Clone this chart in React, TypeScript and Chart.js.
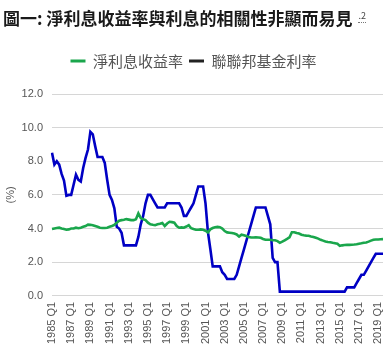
import React, { useEffect, useRef } from "react";
import { Chart, registerables } from "chart.js";

Chart.register(...registerables);

const quarters: string[] = [
  "1985 Q1", "1985 Q2", "1985 Q3", "1985 Q4",
  "1986 Q1", "1986 Q2", "1986 Q3", "1986 Q4",
  "1987 Q1", "1987 Q2", "1987 Q3", "1987 Q4",
  "1988 Q1", "1988 Q2", "1988 Q3", "1988 Q4",
  "1989 Q1", "1989 Q2", "1989 Q3", "1989 Q4",
  "1990 Q1", "1990 Q2", "1990 Q3", "1990 Q4",
  "1991 Q1", "1991 Q2", "1991 Q3", "1991 Q4",
  "1992 Q1", "1992 Q2", "1992 Q3", "1992 Q4",
  "1993 Q1", "1993 Q2", "1993 Q3", "1993 Q4",
  "1994 Q1", "1994 Q2", "1994 Q3", "1994 Q4",
  "1995 Q1", "1995 Q2", "1995 Q3", "1995 Q4",
  "1996 Q1", "1996 Q2", "1996 Q3", "1996 Q4",
  "1997 Q1", "1997 Q2", "1997 Q3", "1997 Q4",
  "1998 Q1", "1998 Q2", "1998 Q3", "1998 Q4",
  "1999 Q1", "1999 Q2", "1999 Q3", "1999 Q4",
  "2000 Q1", "2000 Q2", "2000 Q3", "2000 Q4",
  "2001 Q1", "2001 Q2", "2001 Q3", "2001 Q4",
  "2002 Q1", "2002 Q2", "2002 Q3", "2002 Q4",
  "2003 Q1", "2003 Q2", "2003 Q3", "2003 Q4",
  "2004 Q1", "2004 Q2", "2004 Q3", "2004 Q4",
  "2005 Q1", "2005 Q2", "2005 Q3", "2005 Q4",
  "2006 Q1", "2006 Q2", "2006 Q3", "2006 Q4",
  "2007 Q1", "2007 Q2", "2007 Q3", "2007 Q4",
  "2008 Q1", "2008 Q2", "2008 Q3", "2008 Q4",
  "2009 Q1", "2009 Q2", "2009 Q3", "2009 Q4",
  "2010 Q1", "2010 Q2", "2010 Q3", "2010 Q4",
  "2011 Q1", "2011 Q2", "2011 Q3", "2011 Q4",
  "2012 Q1", "2012 Q2", "2012 Q3", "2012 Q4",
  "2013 Q1", "2013 Q2", "2013 Q3", "2013 Q4",
  "2014 Q1", "2014 Q2", "2014 Q3", "2014 Q4",
  "2015 Q1", "2015 Q2", "2015 Q3", "2015 Q4",
  "2016 Q1", "2016 Q2", "2016 Q3", "2016 Q4",
  "2017 Q1", "2017 Q2", "2017 Q3", "2017 Q4",
  "2018 Q1", "2018 Q2", "2018 Q3", "2018 Q4",
  "2019 Q1", "2019 Q2", "2019 Q3",
];

// 淨利息收益率 (%)
const netInterestMargin: number[] = [
  3.97, 4.0, 4.03, 4.05,
  4.0, 3.97, 3.93, 3.95,
  4.0, 4.0, 4.05, 4.02,
  4.05, 4.1, 4.15, 4.23,
  4.22, 4.2, 4.15, 4.1,
  4.05, 4.03, 4.03, 4.05,
  4.1, 4.15, 4.22, 4.35,
  4.46, 4.5, 4.52, 4.56,
  4.53, 4.5, 4.5, 4.55,
  4.9, 4.62, 4.55, 4.5,
  4.35, 4.25, 4.22, 4.2,
  4.25, 4.28, 4.33, 4.15,
  4.3, 4.4, 4.38, 4.35,
  4.15, 4.05, 4.07, 4.05,
  4.12, 4.2, 4.02, 3.97,
  3.93, 3.93, 3.95, 3.93,
  3.87, 3.77, 3.95, 4.03,
  4.08, 4.1, 4.08, 4.0,
  3.85, 3.77, 3.75, 3.73,
  3.7, 3.65, 3.52, 3.63,
  3.6, 3.55, 3.5, 3.47,
  3.47, 3.48, 3.47, 3.45,
  3.38, 3.33, 3.33, 3.33,
  3.3, 3.3, 3.25, 3.15,
  3.22, 3.3, 3.38, 3.47,
  3.78, 3.78, 3.73, 3.7,
  3.63, 3.6, 3.58, 3.57,
  3.53, 3.5, 3.45, 3.4,
  3.33, 3.28, 3.23, 3.2,
  3.18, 3.15, 3.13, 3.1,
  2.97, 3.0, 3.02, 3.03,
  3.03, 3.04, 3.05, 3.07,
  3.1, 3.12, 3.15, 3.17,
  3.22, 3.28, 3.33, 3.35,
  3.35, 3.36, 3.37,
];

// 聯邦基金利率 (%)
const fedFundsRate: number[] = [
  8.5, 7.8, 8.0, 7.8,
  7.25, 6.85, 5.95, 6.0,
  6.0, 6.6, 7.2, 6.9,
  6.8, 7.6, 8.2, 8.7,
  9.75, 9.6, 8.9, 8.25,
  8.25, 8.25, 7.9, 6.9,
  6.0, 5.7, 5.2, 4.1,
  4.0, 3.75, 3.0, 3.0,
  3.0, 3.0, 3.0, 3.0,
  3.5, 4.25, 4.75, 5.5,
  6.0, 6.0, 5.75, 5.5,
  5.25, 5.25, 5.25, 5.25,
  5.5, 5.5, 5.5, 5.5,
  5.5, 5.5, 5.25, 4.75,
  4.75, 5.0, 5.25, 5.5,
  6.0, 6.5, 6.5, 6.5,
  5.5, 3.8, 2.8, 1.75,
  1.75, 1.75, 1.75, 1.4,
  1.25, 1.0, 1.0, 1.0,
  1.0, 1.25, 1.75, 2.25,
  2.75, 3.25, 3.75, 4.25,
  4.75, 5.25, 5.25, 5.25,
  5.25, 5.25, 4.75, 4.25,
  2.25, 2.0, 2.0, 0.25,
  0.25, 0.25, 0.25, 0.25,
  0.25, 0.25, 0.25, 0.25,
  0.25, 0.25, 0.25, 0.25,
  0.25, 0.25, 0.25, 0.25,
  0.25, 0.25, 0.25, 0.25,
  0.25, 0.25, 0.25, 0.25,
  0.25, 0.25, 0.25, 0.5,
  0.5, 0.5, 0.5, 0.75,
  1.0, 1.25, 1.25, 1.5,
  1.75, 2.0, 2.25, 2.5,
  2.5, 2.5, 2.5,
];

const seriesNames: string[] = ["淨利息收益率", "聯聯邦基金利率"];
const yTicks: number[] = [0, 2, 4, 6, 8, 10, 12];

const LATIN = "'Liberation Sans', Arial, 'Noto Sans CJK TC', sans-serif";
const CJK = "'Noto Sans CJK TC', 'Liberation Sans', sans-serif";

export default function App() {
  const ref = useRef<HTMLCanvasElement | null>(null);

  useEffect(() => {
    document.body.style.margin = "0";
    const canvas = ref.current;
    if (!canvas) return;

    const legendSpacer = {
      id: "legendSpacer",
      beforeInit(chart: any) {
        const legend = chart.legend;
        if (!legend) return;
        const origFit = legend.fit;
        legend.fit = function () {
          origFit.call(this);
          this.height += 15.5;
        };
      },
    };

    const chart = new Chart(canvas, {
      type: "line",
      data: {
        labels: quarters,
        datasets: [
          {
            label: seriesNames[0],
            data: netInterestMargin,
            borderColor: "#1aa64c",
            backgroundColor: "#1aa64c",
            borderWidth: 2.6,
            pointRadius: 0,
            tension: 0,
          },
          {
            label: seriesNames[1],
            data: fedFundsRate,
            borderColor: "#0000c4",
            backgroundColor: "#0000c4",
            borderWidth: 2.6,
            pointRadius: 0,
            tension: 0,
          },
        ],
      },
      options: {
        animation: false,
        responsive: false,
        maintainAspectRatio: false,
        layout: { padding: { top: 47.5, left: 4, right: 9, bottom: 3 } },
        plugins: {
          title: { display: false },
          tooltip: { enabled: false },
          legend: {
            position: "top",
            align: "center",
            labels: {
              usePointStyle: true,
              pointStyle: "line",
              pointStyleWidth: 15,
              padding: 6,
              color: "#555",
              font: { size: 15, family: CJK },
              generateLabels: (c: any) => {
                const items = (Chart.defaults.plugins.legend.labels as any).generateLabels(c);
                if (items[1]) {
                  items[1].strokeStyle = "#222";
                  items[1].fillStyle = "#222";
                }
                items.forEach((it: any) => (it.lineWidth = 3));
                return items;
              },
            },
          },
        },
        scales: {
          x: {
            grid: { display: false, drawTicks: false },
            border: { display: false },
            afterFit: (scale: any) => {
              scale.paddingLeft = 0;
              scale.paddingRight = 0;
            },
            ticks: {
              autoSkip: false,
              maxRotation: 90,
              minRotation: 90,
              padding: 6,
              color: "#555",
              font: { size: 11, family: LATIN },
              callback: (_v: any, i: number) => (i % 8 === 0 ? quarters[i] : ""),
            },
          },
          y: {
            min: yTicks[0],
            max: yTicks[yTicks.length - 1],
            afterBuildTicks: (scale: any) => {
              scale.ticks = yTicks.map((v) => ({ value: v }));
            },
            afterFit: (scale: any) => {
              scale.width = 48;
            },
            grid: { color: "#d6d6d6", drawTicks: false, lineWidth: 1 },
            border: { display: false },
            ticks: {
              padding: 9,
              color: "#555",
              font: { size: 11, family: LATIN },
              callback: (v: any) => Number(v).toFixed(1),
            },
            title: {
              display: true,
              text: "(%)",
              color: "#555",
              font: { size: 11, family: LATIN },
              padding: { top: 0, bottom: 4 },
            },
          },
        },
      },
      plugins: [legendSpacer],
    } as any);

    return () => chart.destroy();
  }, []);

  return (
    <div style={{ position: "relative", width: 392, height: 353 }}>
      <canvas ref={ref} width={392} height={353} style={{ display: "block", width: 392, height: 353 }} />
      <div
        style={{
          position: "absolute",
          left: 3,
          top: 7,
          fontFamily: CJK,
          fontWeight: 700,
          fontSize: 17,
          lineHeight: "21px",
          color: "#1a1a1a",
          whiteSpace: "nowrap",
        }}
      >
        圖一: 淨利息收益率與利息的相關性非顯而易見
        <span
          style={{
            fontSize: 9,
            fontWeight: 400,
            color: "#444",
            marginLeft: 6,
            position: "relative",
            top: -6,
            borderBottom: "1px dotted #777",
          }}
        >
          .2
        </span>
      </div>
    </div>
  );
}
